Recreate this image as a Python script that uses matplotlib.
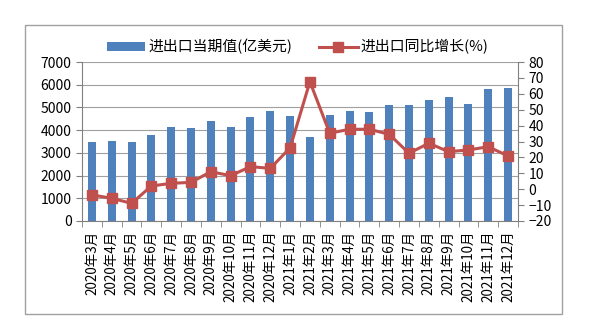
import matplotlib.pyplot as plt
from matplotlib.patches import Rectangle

plt.rcParams['font.family'] = ['Noto Sans CJK SC', 'DejaVu Sans']

months = ['2020年3月', '2020年4月', '2020年5月', '2020年6月', '2020年7月', '2020年8月',
          '2020年9月', '2020年10月', '2020年11月', '2020年12月', '2021年1月', '2021年2月',
          '2021年3月', '2021年4月', '2021年5月', '2021年6月', '2021年7月', '2021年8月',
          '2021年9月', '2021年10月', '2021年11月', '2021年12月']
trade_value = [3500, 3540, 3490, 3790, 4140, 4110, 4420, 4140, 4590, 4840, 4640, 3710,
               4670, 4840, 4800, 5090, 5090, 5310, 5450, 5150, 5800, 5870]
yoy_growth = [-3.6, -5.7, -8.9, 2.0, 3.7, 4.3, 11.0, 8.5, 14.2, 13.1, 26.0, 67.6,
              35.2, 37.7, 37.7, 34.5, 22.6, 28.9, 23.6, 24.7, 26.7, 20.9]

bar_color = '#4F81BD'
line_color = '#C0504D'

fig = plt.figure(figsize=(5.99, 3.23), dpi=100)
ax = fig.add_axes([82 / 599, 1 - 221 / 323, 436 / 599, 159 / 323])
ax2 = ax.twinx()

x = range(len(months))
ax.bar(x, trade_value, width=0.4, color=bar_color, label='进出口当期值(亿美元)', zorder=2)
ax2.plot(x, yoy_growth, color=line_color, linewidth=2.2, marker='s', markersize=7,
         label='进出口同比增长(%)', zorder=3)

ax.set_xlim(-0.5, len(months) - 0.5)
ax.set_ylim(0, 7000)
ax.set_yticks(range(0, 7001, 1000))
ax2.set_ylim(-20, 80)
ax2.set_yticks(range(-20, 81, 10))

ax.grid(axis='y', color='#A0A0A0', linewidth=0.8, zorder=0)
ax.set_axisbelow(True)

ax.set_xticks(x)
ax.set_xticklabels(months, rotation=90, fontsize=9.7)
ax.set_xticks([i - 0.5 for i in range(len(months) + 1)], minor=True)
ax.tick_params(axis='x', which='major', length=0, pad=7)
ax.tick_params(axis='x', which='minor', length=4, color='#808080')
ax.tick_params(axis='y', length=4, color='#808080', labelsize=10)
ax2.tick_params(axis='y', length=4, color='#808080', labelsize=10)

for a in (ax, ax2):
    for side in ('top', 'right'):
        a.spines[side].set_visible(False)
    a.spines['left'].set_visible(False)
ax.spines['left'].set_visible(True)
ax.spines['left'].set_color('#808080')
ax.spines['bottom'].set_color('#808080')
ax2.spines['right'].set_visible(True)
ax2.spines['right'].set_color('#808080')
ax2.spines['bottom'].set_visible(False)

h1, l1 = ax.get_legend_handles_labels()
h2, l2 = ax2.get_legend_handles_labels()
fig.legend(h1 + h2, l1 + l2, loc='center', bbox_to_anchor=(0.497, 1 - 47 / 323), ncol=2,
           frameon=False, fontsize=10.7, columnspacing=1.8, handlelength=2.6,
           handletextpad=0.2, handleheight=0.6)

fig.patches.append(Rectangle((25 / 599, 1 - 314 / 323), 537 / 599, 289 / 323,
                             transform=fig.transFigure, fill=False,
                             edgecolor='#A0A0A0', linewidth=1))

fig.savefig('out.png', dpi=100)
